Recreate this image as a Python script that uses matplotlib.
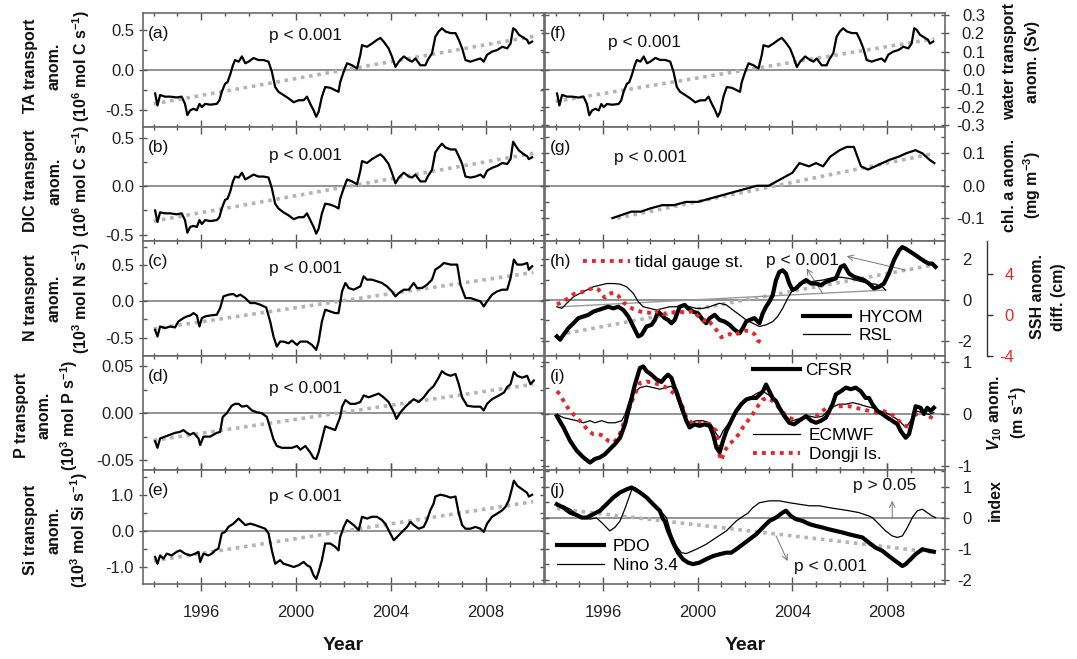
import numpy as np
import matplotlib
matplotlib.use('Agg')
import matplotlib.pyplot as plt
from matplotlib.ticker import MultipleLocator, FixedLocator, FormatStrFormatter
from matplotlib.lines import Line2D

plt.rcParams['font.family'] = ['Liberation Sans', 'DejaVu Sans']
plt.rcParams['axes.unicode_minus'] = False
plt.rcParams['mathtext.fontset'] = 'custom'
plt.rcParams['mathtext.rm'] = 'Liberation Sans:bold'
plt.rcParams['mathtext.it'] = 'Liberation Sans:bold:italic'
plt.rcParams['mathtext.bf'] = 'Liberation Sans:bold'

# ---------------- data ----------------
yr_a = [1994.06,1994.16,1994.27,1994.48,1994.69,1994.97,1995.18,1995.32,1995.42,1995.54,
        1995.68,1995.82,1995.93,1996.03,1996.17,1996.38,1996.66,1996.77,1996.87,1997.01,
        1997.11,1997.22,1997.34,1997.43,1997.58,1997.72,1997.86,1998.00,1998.21,1998.42,
        1998.63,1998.84,1998.98,1999.12,1999.26,1999.47,1999.68,1999.90,2000.11,2000.32,
        2000.46,2000.60,2000.74,2000.85,2000.95,2001.09,2001.23,2001.44,2001.65,2001.79,
        2001.86,2002.01,2002.15,2002.36,2002.57,2002.71,2002.78,2002.99,2003.20,2003.41,
        2003.55,2003.69,2003.90,2004.04,2004.19,2004.33,2004.54,2004.75,2004.89,2005.03,
        2005.24,2005.45,2005.55,2005.73,2005.87,2006.01,2006.15,2006.30,2006.51,2006.72,
        2006.86,2007.00,2007.14,2007.35,2007.56,2007.77,2007.91,2008.05,2008.26,2008.48,
        2008.69,2008.90,2009.04,2009.15,2009.25,2009.39,2009.60,2009.74,2009.81,2009.95]
ta = [-0.29,-0.44,-0.31,-0.33,-0.33,-0.34,-0.33,-0.42,-0.56,-0.50,
      -0.48,-0.50,-0.42,-0.46,-0.42,-0.43,-0.42,-0.375,-0.27,-0.17,
      -0.15,-0.06,0.06,0.125,0.105,0.17,0.085,0.105,0.15,0.125,
      0.125,0.105,-0.02,-0.21,-0.27,-0.31,-0.35,-0.40,-0.375,-0.375,
      -0.33,-0.42,-0.50,-0.58,-0.52,-0.33,-0.21,-0.22,-0.25,-0.27,
      -0.15,-0.02,0.085,0.06,0.02,0.19,0.31,0.29,0.33,0.375,
      0.40,0.355,0.27,0.17,0.04,0.105,0.17,0.125,0.105,0.145,
      0.06,0.06,0.125,0.21,0.415,0.48,0.52,0.48,0.46,0.46,
      0.375,0.27,0.125,0.105,0.125,0.145,0.105,0.19,0.23,0.25,
      0.29,0.27,0.33,0.52,0.50,0.44,0.40,0.375,0.33,0.355]
dic = [-0.25,-0.37,-0.27,-0.28,-0.28,-0.29,-0.28,-0.35,-0.48,-0.42,
       -0.41,-0.42,-0.35,-0.39,-0.35,-0.36,-0.35,-0.32,-0.23,-0.14,
       -0.13,-0.06,0.05,0.10,0.09,0.14,0.07,0.09,0.12,0.10,
       0.10,0.09,-0.02,-0.18,-0.23,-0.27,-0.30,-0.34,-0.32,-0.32,
       -0.28,-0.35,-0.42,-0.49,-0.44,-0.28,-0.18,-0.19,-0.21,-0.23,
       -0.13,-0.02,0.07,0.05,0.02,0.16,0.26,0.24,0.28,0.31,
       0.33,0.30,0.23,0.14,0.03,0.09,0.14,0.10,0.09,0.12,
       0.05,0.05,0.10,0.17,0.35,0.40,0.44,0.40,0.38,0.38,
       0.31,0.23,0.10,0.09,0.10,0.12,0.09,0.16,0.19,0.21,
       0.24,0.23,0.28,0.46,0.42,0.37,0.33,0.31,0.28,0.30]
water = [-0.127,-0.192,-0.135,-0.144,-0.144,-0.149,-0.144,-0.184,-0.245,-0.219,
         -0.21,-0.219,-0.184,-0.201,-0.184,-0.188,-0.184,-0.164,-0.118,-0.074,
         -0.066,-0.026,0.026,0.055,0.046,0.074,0.037,0.046,0.066,0.055,
         0.055,0.046,-0.009,-0.092,-0.118,-0.135,-0.153,-0.175,-0.164,-0.164,
         -0.144,-0.184,-0.219,-0.253,-0.227,-0.144,-0.092,-0.096,-0.109,-0.118,
         -0.066,-0.009,0.037,0.026,0.009,0.083,0.135,0.127,0.144,0.164,
         0.175,0.155,0.118,0.074,0.017,0.046,0.074,0.055,0.046,0.063,
         0.026,0.026,0.055,0.092,0.181,0.21,0.227,0.21,0.201,0.201,
         0.164,0.118,0.055,0.046,0.055,0.063,0.046,0.083,0.1,0.109,
         0.127,0.118,0.144,0.227,0.219,0.192,0.175,0.164,0.144,0.155]

yr_c = [1994.06,1994.16,1994.27,1994.48,1994.69,1994.90,1995.04,1995.25,1995.40,1995.54,
        1995.68,1995.82,1995.93,1996.03,1996.17,1996.38,1996.66,1996.80,1996.94,1997.15,
        1997.36,1997.50,1997.65,1997.86,1998.07,1998.28,1998.49,1998.74,1998.91,1999.05,
        1999.19,1999.33,1999.47,1999.68,1999.83,2000.04,2000.18,2000.46,2000.67,2000.85,
        2000.95,2001.09,2001.23,2001.44,2001.65,2001.79,2001.86,2001.94,2002.08,2002.22,
        2002.43,2002.71,2002.85,2002.99,2003.20,2003.41,2003.62,2003.83,2004.04,2004.19,
        2004.33,2004.54,2004.75,2004.96,2005.10,2005.31,2005.52,2005.73,2005.87,2006.08,
        2006.23,2006.51,2006.79,2006.93,2007.14,2007.35,2007.56,2007.77,2007.91,2008.05,
        2008.26,2008.48,2008.69,2008.90,2009.04,2009.18,2009.32,2009.53,2009.74,2009.81,
        2009.95]
nitro = [-0.394,-0.486,-0.347,-0.37,-0.347,-0.36,-0.278,-0.232,-0.208,-0.195,
         -0.162,-0.195,-0.347,-0.232,-0.208,-0.195,-0.185,-0.093,0.069,0.093,
         0.102,0.069,0.093,0.046,-0.023,-0.023,-0.046,-0.083,-0.278,-0.486,
         -0.625,-0.556,-0.556,-0.579,-0.542,-0.602,-0.556,-0.556,-0.602,-0.671,
         -0.556,-0.278,-0.116,-0.139,-0.162,-0.162,-0.023,0.139,0.255,0.185,
         0.162,0.208,0.347,0.301,0.301,0.278,0.255,0.208,0.139,0.069,
         0.116,0.162,0.162,0.255,0.185,0.185,0.231,0.301,0.44,0.486,
         0.532,0.509,0.509,0.231,0.046,0.046,0.023,0.0,-0.069,0.0,
         0.093,0.139,0.162,0.162,0.324,0.578,0.509,0.509,0.532,0.44,
         0.486]

yr_d = [1994.06,1994.16,1994.27,1994.48,1994.69,1994.90,1995.11,1995.25,1995.40,1995.54,
        1995.68,1995.89,1995.96,1996.10,1996.38,1996.66,1996.80,1996.91,1997.08,1997.29,
        1997.43,1997.58,1997.72,1997.93,1998.14,1998.35,1998.56,1998.77,1998.91,1999.05,
        1999.19,1999.40,1999.61,1999.83,2000.04,2000.18,2000.39,2000.60,2000.74,2000.85,
        2000.95,2001.09,2001.23,2001.44,2001.65,2001.86,2001.94,2002.08,2002.29,2002.50,
        2002.71,2002.85,2003.06,2003.27,2003.48,2003.69,2003.90,2004.12,2004.23,2004.40,
        2004.61,2004.82,2004.96,2005.17,2005.38,2005.59,2005.80,2006.01,2006.15,2006.30,
        2006.51,2006.72,2006.86,2007.00,2007.21,2007.49,2007.77,2007.91,2008.05,2008.26,
        2008.55,2008.76,2008.90,2009.04,2009.18,2009.32,2009.53,2009.74,2009.88,2010.02]
phos = [-0.030,-0.037,-0.027,-0.025,-0.023,-0.021,-0.020,-0.018,-0.021,-0.023,
        -0.021,-0.027,-0.034,-0.025,-0.025,-0.021,-0.020,-0.004,0.000,0.008,
        0.010,0.010,0.007,0.008,0.003,0.001,0.000,-0.004,-0.016,-0.028,
        -0.035,-0.037,-0.037,-0.037,-0.035,-0.039,-0.035,-0.042,-0.048,-0.049,
        -0.042,-0.028,-0.014,-0.016,-0.018,-0.004,0.007,0.014,0.010,0.010,
        0.012,0.019,0.017,0.019,0.021,0.017,0.012,0.001,-0.006,0.001,
        0.007,0.012,0.015,0.012,0.017,0.024,0.029,0.038,0.045,0.042,
        0.040,0.042,0.031,0.017,0.008,0.007,0.007,0.003,0.010,0.015,
        0.019,0.022,0.028,0.031,0.044,0.040,0.038,0.040,0.031,0.035]

yr_e = [1994.06,1994.16,1994.27,1994.41,1994.55,1994.76,1994.97,1995.11,1995.32,1995.54,
        1995.75,1995.89,1995.96,1996.10,1996.31,1996.45,1996.59,1996.73,1996.87,1997.01,
        1997.15,1997.36,1997.58,1997.72,1997.86,1998.07,1998.28,1998.49,1998.70,1998.84,
        1998.98,1999.12,1999.33,1999.47,1999.68,1999.90,2000.11,2000.32,2000.46,2000.60,
        2000.74,2000.85,2000.95,2001.09,2001.23,2001.44,2001.65,2001.79,2001.86,2002.01,
        2002.15,2002.43,2002.64,2002.78,2002.99,2003.20,2003.41,2003.62,2003.76,2003.90,
        2004.12,2004.33,2004.54,2004.68,2004.82,2004.96,2005.17,2005.38,2005.52,2005.66,
        2005.80,2005.87,2006.08,2006.30,2006.51,2006.72,2006.86,2007.00,2007.14,2007.35,
        2007.56,2007.77,2007.91,2008.05,2008.26,2008.48,2008.69,2008.83,2008.97,2009.11,
        2009.18,2009.32,2009.53,2009.74,2009.81,2009.95]
sil = [-0.72,-0.91,-0.68,-0.77,-0.63,-0.68,-0.58,-0.54,-0.63,-0.68,
       -0.63,-0.58,-0.86,-0.63,-0.68,-0.63,-0.54,-0.49,-0.07,-0.03,
       0.11,0.20,0.34,0.25,0.16,0.20,0.16,0.11,0.06,-0.07,
       -0.54,-0.91,-0.81,-0.91,-0.95,-1.0,-0.95,-0.86,-0.95,-1.0,
       -1.23,-1.33,-1.14,-0.81,-0.35,-0.35,-0.44,-0.54,-0.17,0.11,
       0.30,0.16,0.02,0.39,0.34,0.39,0.39,0.30,0.20,0.02,
       -0.26,-0.12,0.02,0.11,0.25,0.16,0.06,0.11,0.30,0.57,
       0.76,0.95,1.0,0.97,0.92,0.95,0.48,0.16,0.06,0.06,
       0.11,0.06,-0.03,0.2,0.39,0.48,0.57,0.67,0.85,1.2,
       1.39,1.25,1.15,1.05,0.95,1.0]

yr_g = [1996.40,1996.80,1997.20,1997.60,1998.00,1998.50,1999.00,1999.50,2000.00,2000.50,
        2001.00,2001.50,2002.00,2002.50,2003.00,2003.50,2004.00,2004.30,2004.70,2005.00,
        2005.30,2005.60,2006.00,2006.30,2006.60,2006.90,2007.20,2007.50,2007.80,2008.10,
        2008.50,2008.80,2009.20,2009.50,2009.80,2010.00]
chl = [-0.10,-0.09,-0.08,-0.08,-0.07,-0.06,-0.06,-0.05,-0.05,-0.04,
       -0.03,-0.02,-0.01,0.00,0.00,0.02,0.04,0.07,0.06,0.07,
       0.06,0.09,0.11,0.12,0.12,0.06,0.05,0.06,0.07,0.08,
       0.09,0.10,0.11,0.10,0.08,0.07]

yr_hycom = [1994.05,1994.19,1994.33,1994.54,1994.75,1994.96,1995.17,1995.38,1995.59,1995.80,
            1996.01,1996.22,1996.44,1996.65,1996.86,1997.07,1997.28,1997.49,1997.63,1997.84,
            1998.05,1998.19,1998.33,1998.47,1998.61,1998.75,1998.89,1999.03,1999.24,1999.45,
            1999.59,1999.80,2000.01,2000.22,2000.36,2000.51,2000.72,2000.93,2001.14,2001.35,
            2001.56,2001.77,2001.91,2002.05,2002.19,2002.40,2002.61,2002.75,2002.89,2003.03,
            2003.17,2003.31,2003.45,2003.59,2003.73,2003.87,2004.01,2004.15,2004.36,2004.58,
            2004.79,2005.00,2005.21,2005.42,2005.63,2005.84,2006.05,2006.19,2006.40,2006.61,
            2006.82,2007.03,2007.24,2007.45,2007.66,2007.87,2008.08,2008.29,2008.51,2008.65,
            2008.79,2009.00,2009.21,2009.42,2009.63,2009.77,2009.91,2010.05]
hycom = [-1.79,-1.95,-1.71,-1.38,-1.14,-0.89,-0.81,-0.73,-0.57,-0.49,
         -0.41,-0.33,-0.41,-0.33,-0.49,-0.81,-1.30,-1.79,-1.71,-1.30,
         -1.22,-0.98,-0.57,-0.73,-0.89,-0.98,-1.14,-0.98,-0.33,-0.24,
         -0.41,-0.57,-0.65,-0.98,-1.14,-0.89,-0.73,-0.98,-1.06,-1.22,
         -1.46,-1.63,-1.38,-1.06,-0.98,-0.89,-1.14,-0.65,-0.33,-0.08,
         0.24,0.98,1.38,1.46,1.30,0.81,0.49,0.57,0.81,0.98,
         0.81,0.81,0.73,0.89,0.98,1.06,1.63,1.71,1.30,1.14,
         1.06,0.98,0.81,0.57,0.65,0.81,1.30,1.95,2.44,2.60,
         2.52,2.36,2.20,2.03,1.87,1.79,1.79,1.63]

yr_rsl = [1994.05,1994.26,1994.47,1994.75,1995.03,1995.31,1995.59,1995.87,1996.15,1996.44,
          1996.72,1997.00,1997.28,1997.49,1997.70,1997.98,1998.26,1998.54,1998.82,1999.10,
          1999.38,1999.66,1999.94,2000.22,2000.51,2000.72,2000.93,2001.21,2001.49,2001.77,
          2002.05,2002.33,2002.61,2002.89,2003.17,2003.38,2003.59,2003.80,2004.01,2004.22,
          2004.44,2004.72,2005.00,2005.28,2005.56,2005.84,2006.12,2006.40,2006.68,2006.96,
          2007.24,2007.52,2007.80,2007.94]
rsl = [-0.33,-0.41,-0.16,0.16,0.33,0.49,0.65,0.73,0.81,0.81,
       0.78,0.65,0.33,-0.08,-0.33,-0.41,-0.49,-0.41,-0.33,-0.33,
       -0.24,-0.33,-0.41,-0.41,-0.33,-0.24,-0.16,-0.24,-0.49,-0.73,
       -0.98,-1.14,-1.30,-1.22,-1.06,-0.81,-0.41,0.08,0.49,0.65,
       0.81,0.89,0.94,0.98,1.06,1.14,1.11,1.06,0.98,0.89,
       0.81,0.78,0.65,0.49]

yr_tide = [1994.05,1994.26,1994.47,1994.75,1995.03,1995.31,1995.59,1995.80,1995.94,1996.08,
           1996.22,1996.44,1996.65,1996.86,1997.07,1997.28,1997.49,1997.70,1997.91,1998.12,
           1998.33,1998.54,1998.75,1998.96,1999.17,1999.38,1999.59,1999.80,2000.01,2000.22,
           2000.44,2000.58,2000.72,2000.86,2001.00,2001.14,2001.35,2001.56,2001.77,2001.98,
           2002.19,2002.40,2002.54,2002.68]
tide = [1.04,1.20,1.53,2.02,2.18,2.34,2.67,2.50,2.02,1.69,
        2.02,2.18,1.85,1.20,0.88,0.55,0.39,0.23,0.23,0.07,
        0.39,0.07,0.23,0.23,0.39,0.23,0.23,0.39,-0.10,-0.59,
        -0.42,-0.91,-1.24,-1.72,-2.21,-2.05,-1.89,-2.05,-1.72,-1.56,
        -1.56,-1.89,-2.54,-2.70]

yr_cfsr = [1994.05,1994.33,1994.61,1994.89,1995.17,1995.45,1995.66,1995.87,1996.08,1996.29,
           1996.51,1996.72,1996.93,1997.07,1997.21,1997.35,1997.56,1997.70,1997.84,1998.05,
           1998.26,1998.47,1998.61,1998.75,1998.89,1999.03,1999.10,1999.24,1999.38,1999.52,
           1999.66,1999.87,2000.08,2000.29,2000.51,2000.65,2000.79,2000.93,2001.07,2001.21,
           2001.42,2001.63,2001.84,2002.05,2002.26,2002.48,2002.76,2002.89,2003.03,2003.17,
           2003.31,2003.45,2003.66,2003.87,2004.08,2004.29,2004.58,2004.79,2005.00,2005.21,
           2005.42,2005.56,2005.70,2005.84,2006.05,2006.26,2006.47,2006.68,2006.89,2007.10,
           2007.24,2007.38,2007.59,2007.80,2008.01,2008.22,2008.44,2008.58,2008.79,2008.93,
           2009.07,2009.21,2009.42,2009.56,2009.70,2009.84,2009.98]
cfsr = [-0.04,-0.26,-0.52,-0.71,-0.84,-0.94,-0.87,-0.84,-0.78,-0.68,
        -0.58,-0.46,-0.20,0.06,0.31,0.57,0.89,0.92,0.83,0.76,
        0.67,0.62,0.70,0.76,0.70,0.51,0.44,0.25,0.06,-0.13,
        -0.26,-0.20,-0.23,-0.20,-0.23,-0.39,-0.65,-0.74,-0.52,-0.33,
        -0.13,0.06,0.19,0.28,0.31,0.31,0.44,0.57,0.44,0.31,
        0.25,0.12,-0.04,-0.17,-0.20,-0.13,-0.04,-0.13,-0.17,-0.13,
        -0.07,0.06,0.19,0.38,0.44,0.51,0.48,0.51,0.44,0.31,
        0.31,0.19,0.06,0.0,-0.07,-0.13,-0.20,-0.33,-0.46,-0.39,
        -0.13,0.15,0.12,0.0,0.12,0.06,0.12]

yr_ecmwf = [1994.05,1994.33,1994.61,1994.89,1995.17,1995.45,1995.66,1995.94,1996.22,1996.51,
            1996.79,1996.93,1997.07,1997.21,1997.56,1997.84,1998.12,1998.40,1998.68,1998.89,
            1999.03,1999.17,1999.31,1999.45,1999.66,1999.94,2000.22,2000.51,2000.65,2000.79,
            2000.93,2001.07,2001.28,2001.49,2001.70,2001.91,2002.12,2002.33,2002.54,2002.75,
            2002.96,2003.17,2003.38,2003.59,2003.80,2004.01,2004.22,2004.44,2004.72,2005.00,
            2005.28,2005.56,2005.77,2005.98,2006.26,2006.54,2006.82,2007.10,2007.38,2007.66,
            2007.94,2008.22,2008.51,2008.79,2009.00,2009.21,2009.49,2009.77,2009.98]
ecmwf = [-0.01,-0.07,-0.10,-0.13,-0.17,-0.13,-0.17,-0.13,-0.17,-0.17,
         -0.13,-0.01,0.19,0.38,0.51,0.54,0.51,0.48,0.51,0.54,
         0.44,0.25,0.06,-0.07,-0.17,-0.13,-0.13,-0.17,-0.26,-0.39,
         -0.46,-0.33,-0.20,-0.07,0.06,0.19,0.28,0.35,0.41,0.44,
         0.38,0.31,0.22,0.06,-0.07,-0.13,-0.10,-0.07,-0.04,-0.07,
         -0.04,0.09,0.15,0.19,0.19,0.22,0.19,0.15,0.12,0.06,
         0.03,-0.04,-0.13,-0.26,-0.13,0.06,0.03,-0.01,0.03]

yr_dongji = [1994.05,1994.19,1994.40,1994.61,1994.89,1995.17,1995.38,1995.59,1995.80,1996.01,
             1996.22,1996.44,1996.65,1996.86,1997.07,1997.28,1997.56,1997.84,1998.12,1998.40,
             1998.68,1998.96,1999.17,1999.38,1999.52,1999.73,1999.94,2000.22,2000.51,2000.79,
             2000.93,2001.00,2001.14,2001.35,2001.63,2001.91,2002.12,2002.33,2002.54,2002.75,
             2002.96,2003.17,2003.38,2003.59,2003.87,2004.15,2004.44,2004.72,2005.00,2005.28,
             2005.56,2005.84,2006.12,2006.40,2006.68,2006.96,2007.24,2007.52,2007.80,2008.08,
             2008.36,2008.65,2008.93,2009.21,2009.49,2009.77,2009.98]
dongji = [0.44,0.38,0.19,0.06,-0.07,-0.20,-0.33,-0.39,-0.39,-0.42,
          -0.52,-0.55,-0.46,-0.20,0.06,0.31,0.60,0.63,0.60,0.57,
          0.51,0.41,0.31,0.12,-0.07,-0.17,-0.17,-0.17,-0.20,-0.33,
          -0.81,-0.90,-0.71,-0.58,-0.46,-0.26,-0.13,0.0,0.15,0.28,
          0.31,0.25,0.15,0.03,-0.07,-0.13,-0.10,-0.07,-0.04,0.06,
          0.15,0.15,0.15,0.15,0.12,0.09,0.06,0.03,0.06,0.03,
          -0.07,-0.20,-0.26,-0.01,0.06,-0.04,-0.10]

yr_pdo = [1994.05,1994.33,1994.61,1994.89,1995.10,1995.31,1995.59,1995.87,1996.15,1996.44,
          1996.72,1997.00,1997.21,1997.35,1997.56,1997.84,1998.12,1998.40,1998.54,1998.61,
          1998.75,1998.96,1999.17,1999.38,1999.59,1999.80,2000.08,2000.36,2000.65,2000.93,
          2001.21,2001.42,2001.63,2001.91,2002.19,2002.47,2002.75,2003.03,2003.31,2003.59,
          2003.73,2003.94,2004.15,2004.44,2004.72,2005.00,2005.28,2005.56,2005.84,2006.12,
          2006.40,2006.68,2006.96,2007.24,2007.52,2007.80,2008.08,2008.36,2008.65,2008.79,
          2009.00,2009.21,2009.49,2009.77,2009.98]
pdo = [0.44,0.33,0.17,0.09,0.01,0.01,0.12,0.23,0.44,0.66,
       0.82,0.92,0.98,0.92,0.82,0.66,0.44,0.23,-0.04,-0.10,
       -0.42,-0.80,-1.12,-1.33,-1.44,-1.49,-1.44,-1.33,-1.23,-1.17,
       -1.12,-1.12,-1.01,-0.85,-0.69,-0.53,-0.31,-0.10,0.01,0.17,
       0.23,0.06,-0.04,-0.10,-0.20,-0.26,-0.31,-0.37,-0.42,-0.47,
       -0.53,-0.58,-0.63,-0.80,-0.96,-1.06,-1.23,-1.39,-1.55,-1.49,
       -1.33,-1.17,-1.01,-1.06,-1.09]

yr_nino = [1994.05,1994.33,1994.61,1994.89,1995.17,1995.45,1995.73,1996.01,1996.29,1996.51,
           1996.72,1996.93,1997.07,1997.21,1997.35,1997.56,1997.84,1998.12,1998.40,1998.68,
           1998.89,1999.10,1999.31,1999.52,1999.94,2000.36,2000.79,2001.21,2001.63,2001.91,
           2002.12,2002.33,2002.61,2003.03,2003.45,2003.87,2004.29,2004.72,2005.14,2005.56,
           2005.98,2006.40,2006.82,2007.24,2007.38,2007.66,2007.94,2008.22,2008.44,2008.65,
           2008.86,2009.07,2009.28,2009.49,2009.70,2009.91,2010.05]
nino = [0.39,0.39,0.28,0.12,0.01,-0.04,0.0,-0.20,-0.42,-0.30,
        -0.10,0.30,0.60,0.90,0.98,0.85,0.66,0.45,0.25,0.01,
        -0.53,-0.90,-1.12,-1.15,-1.01,-0.85,-0.63,-0.42,-0.10,0.05,
        0.15,0.33,0.49,0.55,0.55,0.49,0.44,0.39,0.39,0.33,
        0.28,0.23,0.17,0.06,0.01,-0.20,-0.42,-0.58,-0.63,-0.58,
        -0.31,0.01,0.23,0.28,0.17,0.06,0.01]

# linear trends (end points)
trend_yr = [1994.0, 2010.0]
trend_ta = [-0.42, 0.42]
trend_dic = [-0.36, 0.34]
trend_n = [-0.38, 0.40]
trend_p = [-0.029, 0.031]
trend_si = [-0.83, 0.81]
trend_water = [-0.17, 0.17]
trend_g_yr = [1996.6, 2010.0]
trend_chl = [-0.10, 0.10]
trend_h_yr = [1994.47, 2009.91]
trend_hycom = [-1.63, 1.71]
trend_rsl_yr = [1994.2, 2007.94]
trend_rsl = [-0.33, 0.49]
trend_j_yr = [1994.05, 2010.0]
trend_pdo = [0.30, -1.11]

year_ticks = [1996, 2000, 2004, 2008]

# ---------------- layout ----------------
FW, FH = 1077, 659
fig = plt.figure(figsize=(FW / 100, FH / 100), dpi=100)
TOP, PH = 13.0, 114.2
LX0, LX1 = 143, 544
RX0, RX1 = 545, 945

SPINE = '#6a6a6a'
TICKC = '#555555'
LABC = '#222222'
TRENDC = '#b4b4b4'
RED = '#e8262a'


def make_ax(k, x0, x1):
    y1 = TOP + PH * (k + 1)
    return fig.add_axes([x0 / FW, 1 - y1 / FH, (x1 - x0) / FW, PH / FH])


def style(ax, ylim, major, minor, fmt, bottom, right_col, rpad=26.0):
    ax.set_xlim(1993.55, 2010.45)
    ax.set_ylim(*ylim)
    ax.xaxis.set_major_locator(FixedLocator(year_ticks))
    ax.xaxis.set_minor_locator(MultipleLocator(1))
    ax.yaxis.set_major_locator(MultipleLocator(major))
    ax.yaxis.set_minor_locator(MultipleLocator(minor))
    ax.yaxis.set_major_formatter(FormatStrFormatter(fmt))
    for s in ax.spines.values():
        s.set_color(SPINE)
        s.set_linewidth(1.2)
    if bottom:
        ax.tick_params(axis='x', which='major', direction='inout', length=10, width=1.0,
                       top=True, bottom=True, color=TICKC, labelsize=12, labelcolor=LABC, pad=10)
        ax.tick_params(axis='x', which='minor', direction='inout', length=4.5, width=1.0,
                       top=True, bottom=True, color=TICKC)
    else:
        ax.tick_params(axis='x', which='major', direction='in', length=5, width=1.0,
                       top=True, bottom=True, color=TICKC, labelbottom=False)
        ax.tick_params(axis='x', which='minor', direction='in', length=2.5, width=1.0,
                       top=True, bottom=True, color=TICKC)
    ax.tick_params(axis='y', which='both', left=True, right=True)
    ax.tick_params(axis='y', which='major', direction='inout', length=5.8, width=1.0,
                   color=TICKC, labelsize=12, labelcolor=LABC)
    ax.tick_params(axis='y', which='minor', direction='in', length=3, width=1.0, color=TICKC)
    if right_col:
        ax.tick_params(axis='y', which='major', labelleft=False, labelright=True, pad=rpad)
        for t in ax.yaxis.get_major_ticks():
            t.label2.set_horizontalalignment('right')
    else:
        ax.tick_params(axis='y', which='major', labelleft=True, labelright=False, pad=3.6)
    ax.axhline(0, color='#8a8a8a', lw=1.3, zorder=1)


def trend(ax, x, y):
    ax.plot(x, y, color=TRENDC, lw=2.6, ls=(0, (1, 1.3)), zorder=2)


def plabel(ax, s, x=0.012, y=0.82):
    ax.text(x, y, s, transform=ax.transAxes, fontsize=12.5, ha='left', va='center', color='#111')


def ptext(ax, s, x, y):
    ax.text(x, y, s, transform=ax.transAxes, fontsize=12.5, ha='center', va='center', color='#111')


# ---------- left column ----------
left_specs = [
    (yr_a, ta, trend_ta, (-0.71, 0.71), 0.5, 0.25, '%.1f', '(a)', 0.807),
    (yr_a, dic, trend_dic, (-0.57, 0.61), 0.5, 0.25, '%.1f', '(b)', 0.754),
    (yr_c, nitro, trend_n, (-0.75, 0.83), 0.5, 0.25, '%.1f', '(c)', 0.76),
    (yr_d, phos, trend_p, (-0.0605, 0.0616), 0.05, 0.025, '%.2f', '(d)', 0.713),
    (yr_e, sil, trend_si, (-1.47, 1.69), 1.0, 0.5, '%.1f', '(e)', 0.77),
]
for k, (xs, ys, tr, yl, mj, mn, fmt, lab, py) in enumerate(left_specs):
    ax = make_ax(k, LX0, LX1)
    style(ax, yl, mj, mn, fmt, k == 4, False)
    trend(ax, trend_yr, tr)
    ax.plot(xs, ys, color='black', lw=1.6, zorder=3)
    plabel(ax, lab)
    ptext(ax, 'p < 0.001', 0.404, py)

# ---------- right column ----------
# (f)
axf = make_ax(0, RX0, RX1)
style(axf, (-0.31, 0.31), 0.1, 0.1, '%.1f', False, True, rpad=25.9)
trend(axf, trend_yr, trend_water)
axf.plot(yr_a, water, color='black', lw=1.6, zorder=3)
plabel(axf, '(f)')
ptext(axf, 'p < 0.001', 0.25, 0.746)

# (g)
axg = make_ax(1, RX0, RX1)
style(axg, (-0.172, 0.181), 0.1, 0.05, '%.1f', False, True, rpad=25.9)
trend(axg, trend_g_yr, trend_chl)
axg.plot(yr_g, chl, color='black', lw=1.6, zorder=3)
plabel(axg, '(g)')
ptext(axg, 'p < 0.001', 0.2625, 0.737)

# (h)
axh = make_ax(2, RX0, RX1)
axs = axh.twinx()
style(axh, (-2.73, 2.88), 2, 1, '%d', False, True, rpad=16.5)
trend(axh, trend_h_yr, trend_hycom)
axh.plot(trend_rsl_yr, trend_rsl, color='#9a9a9a', lw=1.0, zorder=2)
axh.plot(yr_rsl, rsl, color='black', lw=0.9, zorder=3)
axh.plot(yr_hycom, hycom, color='black', lw=3.0, zorder=4)
axs.set_xlim(1993.55, 2010.45)
axs.set_ylim(-4, 7.2)
for side in ['left', 'top', 'bottom']:
    axs.spines[side].set_visible(False)
axs.spines['right'].set_position(('axes', 1.105))
axs.spines['right'].set_color('#333333')
axs.spines['right'].set_linewidth(1.0)
axs.yaxis.set_major_locator(FixedLocator([-4, 0, 4]))
axs.yaxis.set_minor_locator(FixedLocator([]))
axs.yaxis.set_major_formatter(FormatStrFormatter('%d'))
axs.tick_params(axis='y', which='major', direction='out', length=4, width=1.0, color='#333333',
                labelsize=12, labelcolor=RED, pad=15.5)
for t in axs.yaxis.get_major_ticks():
    t.label2.set_horizontalalignment('right')
axs.plot(yr_tide, tide, color=RED, lw=2.8, ls=(0, (1, 1.3)), zorder=5)
plabel(axh, '(h)')
ptext(axh, 'p < 0.001', 0.645, 0.833)
axh.annotate('', xy=(2004.6, 1.55), xytext=(2005.28, 0.33),
             arrowprops=dict(arrowstyle='->', color='#777777', lw=0.7, shrinkA=0, shrinkB=0))
axh.annotate('', xy=(2006.3, 2.15), xytext=(2008.79, 1.47),
             arrowprops=dict(arrowstyle='->', color='#777777', lw=0.7, shrinkA=0, shrinkB=0))
leg1 = axh.legend(handles=[Line2D([], [], color=RED, lw=2.8, ls=(0, (1, 1.3)), label='tidal gauge st.')],
                  loc='center left', bbox_to_anchor=(0.095, 0.816), frameon=False, borderpad=0,
                  borderaxespad=0, handlelength=2.7, handletextpad=0.3, fontsize=12.5)
axh.add_artist(leg1)
axh.legend(handles=[Line2D([], [], color='black', lw=3.0, label='HYCOM'),
                    Line2D([], [], color='black', lw=0.9, label='RSL')],
           loc='center left', bbox_to_anchor=(0.645, 0.254), frameon=False, borderpad=0,
           borderaxespad=0, handlelength=2.7, handletextpad=0.5, labelspacing=0.2, fontsize=12.5)

# (i)
axi = make_ax(3, RX0, RX1)
style(axi, (-1.08, 1.13), 1, 0.5, '%d', False, True, rpad=16.5)
axi.plot(yr_ecmwf, ecmwf, color='black', lw=0.9, zorder=3)
axi.plot(yr_dongji, dongji, color=RED, lw=2.8, ls=(0, (1, 1.3)), zorder=4)
axi.plot(yr_cfsr, cfsr, color='black', lw=3.0, zorder=5)
plabel(axi, '(i)')
leg2 = axi.legend(handles=[Line2D([], [], color='black', lw=3.0, label='CFSR')],
                  loc='center left', bbox_to_anchor=(0.52, 0.87), frameon=False, borderpad=0,
                  borderaxespad=0, handlelength=2.7, handletextpad=0.3, fontsize=12.5)
axi.add_artist(leg2)
axi.legend(handles=[Line2D([], [], color='black', lw=0.9, label='ECMWF'),
                    Line2D([], [], color=RED, lw=2.8, ls=(0, (1, 1.3)), label='Dongji Is.')],
           loc='center left', bbox_to_anchor=(0.52, 0.217), frameon=False, borderpad=0,
           borderaxespad=0, handlelength=2.7, handletextpad=0.5, labelspacing=0.2, fontsize=12.5)

# (j)
axj = make_ax(4, RX0, RX1)
style(axj, (-2.13, 1.55), 1, 0.5, '%d', True, True, rpad=16.5)
trend(axj, trend_j_yr, trend_pdo)
axj.plot(yr_nino, nino, color='black', lw=0.9, zorder=3)
axj.plot(yr_pdo, pdo, color='black', lw=3.0, zorder=4)
plabel(axj, '(j)')
ptext(axj, 'p > 0.05', 0.848, 0.86)
ptext(axj, 'p < 0.001', 0.7125, 0.149)
axj.annotate('', xy=(2008.22, 0.55), xytext=(2008.22, 0.0),
             arrowprops=dict(arrowstyle='->', color='#777777', lw=0.7, shrinkA=0, shrinkB=0))
axj.annotate('', xy=(2003.8, -1.39), xytext=(2003.31, -0.58),
             arrowprops=dict(arrowstyle='->', color='#777777', lw=0.7, shrinkA=0, shrinkB=0))
axj.legend(handles=[Line2D([], [], color='black', lw=3.0, label='PDO'),
                    Line2D([], [], color='black', lw=0.9, label='Nino 3.4')],
           loc='center left', bbox_to_anchor=(0.03, 0.245), frameon=False, borderpad=0,
           borderaxespad=0, handlelength=2.7, handletextpad=0.5, labelspacing=0.2, fontsize=12.5)

# ---------- axis titles ----------
def vtext(px, py, s, color='#111111', size=11.5):
    fig.text(px / FW, 1 - py / FH, s, rotation=90, ha='center', va='center',
             fontsize=size, fontweight='bold', color=color)

left_labels = [
    ('TA transport', 'anom.', '(10$^{6}$ mol C s$^{-1}$)', (31, 54, 81), 66),
    ('DIC transport', 'anom.', '(10$^{6}$ mol C s$^{-1}$)', (31, 55, 81), 181),
    ('N transport', 'anom.', '(10$^{3}$ mol N s$^{-1}$)', (31, 54, 81), 298),
    ('P transport', 'anom.', '(10$^{3}$ mol P s$^{-1}$)', (22, 44, 69), 415),
    ('Si transport', 'anom.', '(10$^{3}$ mol Si s$^{-1}$)', (30, 54, 79), 530),
]
for l1, l2, l3, xs, yc in left_labels:
    vtext(xs[0], yc, l1)
    vtext(xs[1], yc, l2)
    vtext(xs[2], yc, l3)

vtext(1010, 62, 'water transport')
vtext(1032, 62, 'anom. (Sv)')
vtext(1010, 185, 'chl. a anom.')
vtext(1032, 185, '(mg m$^{-3}$)')
vtext(1037, 297, 'SSH anom.')
vtext(1058, 297, 'diff. (cm)')
vtext(995, 413, '$V_{10}$ anom.')
vtext(1018, 413, '(m s$^{-1}$)')
vtext(995, 500, 'index')

fig.text(343 / FW, 1 - 645 / FH, 'Year', ha='center', va='center', fontsize=14, fontweight='bold', color='#111')
fig.text(745 / FW, 1 - 645 / FH, 'Year', ha='center', va='center', fontsize=14, fontweight='bold', color='#111')

fig.savefig('out.png', dpi=100)
